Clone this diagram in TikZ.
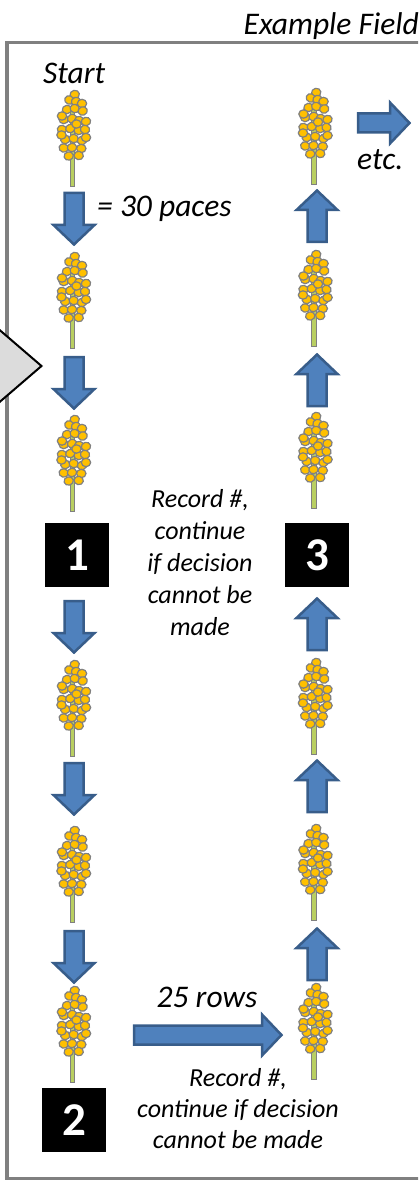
\documentclass[tikz,border=0pt]{standalone}
\usepackage{fontspec}
\setmainfont{Carlito}
\definecolor{arrowfill}{HTML}{4F81BD}
\definecolor{arrowline}{HTML}{385D8A}
\definecolor{grainfill}{HTML}{FFC000}
\definecolor{grainline}{HTML}{808080}
\definecolor{stemfill}{HTML}{B9CF62}
\definecolor{framegray}{HTML}{808080}
\definecolor{tabgray}{HTML}{DCDCDC}
\tikzset{
  blockarrowsty/.style={fill=arrowfill, draw=arrowline, line width=2.5pt, line join=miter},
  pics/barrow/.style={code={
    \path[blockarrowsty] (1,-9.5) -- (#1-21,-9.5) -- (#1-21,-20.5) -- (#1-1.5,0)
      -- (#1-21,20.5) -- (#1-21,9.5) -- (1,9.5) -- cycle;}},
  stemsty/.style={fill=stemfill, draw=grainline, line width=0.9pt},
  grainsty/.style={fill=grainfill, draw=grainline, line width=1.2pt},
  pics/plant/.style={code={
    \path[stemsty] (-2.4,18) rectangle (2.4,96.5);
    \foreach \gx/\gy/\ga in {2.2/4.5/10,-3.2/10/-20,3.5/11.5/15,9.5/13.5/0,-5.5/19.5/10,
      2.2/18.5/-15,10.2/21/20,-8.8/29.5/0,-0.5/28.5/25,6.8/30.5/-10,13.5/31.5/15,
      -10.5/26/0,-10.5/39.5/-10,-2.2/38.5/15,6.2/40.5/0,12.5/39.5/-20,-7.2/49.5/10,
      1.2/48.5/-10,9.5/50.5/20,13.5/47.5/0,-11/45/0,-8.8/58/-15,-0.5/57.5/10,
      8.8/58.5/0,-3.8/66/15,6.2/65.5/-10,4/34/0}
      {\path[grainsty, rotate around={\ga:(\gx,\gy)}] (\gx,\gy) ellipse [x radius=4.7, y radius=4.2];}
  }},
  framesty/.style={draw=framegray, line width=3.5pt},
  tabsty/.style={fill=tabgray, draw=black, line width=2pt, line join=miter},
  titlesty/.style={font=\fontsize{31.5}{36}\selectfont\itshape, inner sep=0pt},
  labsty/.style={font=\fontsize{31.5}{36}\selectfont\itshape, inner sep=0pt},
  recsty/.style={font=\fontsize{26}{30}\selectfont\itshape, inner sep=0pt, anchor=base},
  numbox/.style={fill=black, minimum size=64pt, inner sep=0pt, text=white,
    font=\fontsize{47}{47}\selectfont\bfseries},
}
\begin{document}
\begin{tikzpicture}[x=1pt, y=-1pt]
\useasboundingbox (0,0) rectangle (418,1182);
\clip (0,0) rectangle (418,1182);
% frame
\path[framesty] (7,42.5) rectangle (440,1178.5);
% side tab
\path[tabsty] (-12,320) -- (41.5,366) -- (-12,412) -- cycle;
% title and labels
\node[titlesty, anchor=base east] (title) at (419,35) {Example Field};
\node[labsty, anchor=base west] (start) at (43,84) {Start};
\node[labsty, anchor=base west] (paces) at (97,217) {= 30 paces};
\node[labsty, anchor=base west] (etc) at (357,170) {etc.};
\node[labsty, anchor=base] (rows) at (207,1007) {25 rows};
% middle note
\node[recsty] (ra) at (200,507) {Record \#,};
\node[recsty] (rb) at (200,539) {continue};
\node[recsty] (rc) at (200,571) {if decision};
\node[recsty] (rd) at (200,603) {cannot be};
\node[recsty] (re) at (200,635) {made};
% bottom note
\node[recsty] (sa) at (238,1086) {Record \#,};
\node[recsty] (sb) at (238,1117) {continue if decision};
\node[recsty] (sc) at (238,1148) {cannot be made};
% plants, column 1
\foreach \py in {90,252,415,660,826,986} \pic at (72.5,\py) {plant};
% plants, column 2
\foreach \py in {88,250,412,658,824,983} \pic at (314,\py) {plant};
% arrows column 1 (down)
\foreach \ay in {192,356,600,762,930} \pic[rotate=-90] at (74,\ay) {barrow=54};
% arrows column 2 (up)
\foreach \ay in {243,407,651,813,981} \pic[rotate=90] at (317,\ay) {barrow=54};
% horizontal arrows
\pic at (133,1035) {barrow=150};
\pic at (357,123) {barrow=54};
% number boxes
\node[numbox] (n1) at (77,555) {1};
\node[numbox] (n3) at (317,555) {3};
\node[numbox] (n2) at (74,1120) {2};
\end{tikzpicture}
\end{document}
